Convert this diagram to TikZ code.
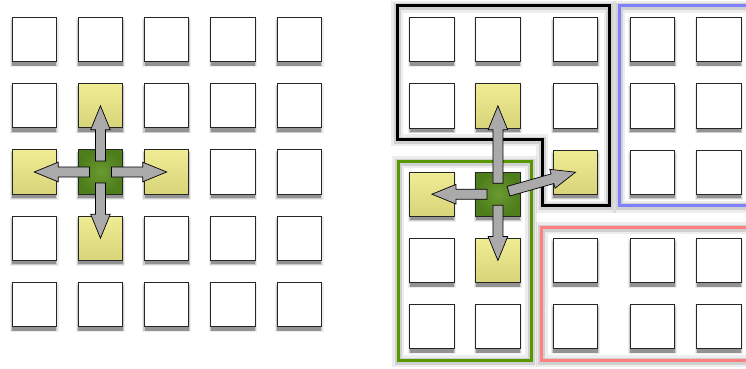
\documentclass[tikz,border=0pt]{standalone}
\usetikzlibrary{calc,shadows}
\definecolor{yTop}{HTML}{F0EC94}
\definecolor{yBot}{HTML}{D8D47A}
\definecolor{gIn}{HTML}{6A9A30}
\definecolor{gOut}{HTML}{4E7D1C}
\definecolor{arrowgray}{HTML}{AAAAAA}
\definecolor{frameGreen}{HTML}{5A9600}
\definecolor{frameBlue}{HTML}{8080FF}
\definecolor{frameRed}{HTML}{FF8080}
\tikzset{
  sqshadow/.style={
    general shadow={shadow yshift=-3pt, shadow scale=1.10, fill=black, opacity=0.07},
    general shadow={shadow yshift=-3.5pt, shadow scale=1.05, fill=black, opacity=0.14},
    general shadow={shadow yshift=-4pt, shadow scale=1.0, fill=black, opacity=0.28}},
  cellbase/.style={rectangle, minimum size=44.3pt, inner sep=0pt, draw=black!85, line width=0.9pt, sqshadow},
  wcell/.style={cellbase, fill=white},
  ycell/.style={cellbase, top color=yTop, bottom color=yBot},
  gcell/.style={cellbase, inner color=gIn, outer color=gOut},
  framehaloA/.style={line width=12pt, draw=black, opacity=0.07, line join=miter, yshift=-1pt},
  framehaloB/.style={line width=7pt, draw=black, opacity=0.12, line join=miter, yshift=-1pt},
  frameline/.style={line width=3pt, line join=miter},
  blockarrow/.style={draw=black, fill=arrowgray, line width=0.7pt, line join=miter,
    to path={let \p1=(\tikztostart.center), \p2=(\tikztotarget.center) in
      ($(\p1)!11pt!(\p2)!5pt!90:(\p2)$) -- ($(\p2)!24pt!(\p1)!5pt!-90:(\p1)$)
      -- ($(\p2)!24pt!(\p1)!9.8pt!-90:(\p1)$) -- (\p2)
      -- ($(\p2)!24pt!(\p1)!9.8pt!90:(\p1)$) -- ($(\p2)!24pt!(\p1)!5pt!90:(\p1)$)
      -- ($(\p1)!11pt!(\p2)!5pt!-90:(\p2)$) -- cycle}}
}
\begin{document}
\begin{tikzpicture}[x=1pt,y=-1pt]
\useasboundingbox (0,0) rectangle (746,368);
% ---------- left grid ----------
\foreach \i/\j in {0/0,1/0,2/0,3/0,4/0, 0/1,2/1,3/1,4/1, 3/2,4/2, 0/3,2/3,3/3,4/3, 0/4,1/4,2/4,3/4,4/4}{
  \node[wcell] (L\i\j) at ({34.2+66.25*\i},{39.5+66.25*\j}) {};
}
\foreach \i/\j in {1/1,0/2,2/2,1/3}{
  \node[ycell] (L\i\j) at ({34.2+66.25*\i},{39.5+66.25*\j}) {};
}
\node[gcell] (L12) at ({34.2+66.25},{39.5+66.25*2}) {};
\draw[blockarrow] (L12) to (L11);
\draw[blockarrow] (L12) to (L02);
\draw[blockarrow] (L12) to (L22);
\draw[blockarrow] (L12) to (L13);
% ---------- right frames ----------
\foreach \s in {framehaloA,framehaloB}{
  \draw[\s] (397.3,5.7) -- (609.7,5.7) -- (609.7,205.7) -- (542.3,205.7) -- (542.3,139.3) -- (397.3,139.3) -- cycle;
  \draw[\s] (619,5.7) rectangle (770,205.7);
  \draw[\s] (541.7,227.3) rectangle (770,360);
  \draw[\s] (398,161.3) rectangle (531.3,360);
}
\draw[frameline, draw=black] (397.3,5.7) -- (609.7,5.7) -- (609.7,205.7) -- (542.3,205.7) -- (542.3,139.3) -- (397.3,139.3) -- cycle;
\draw[frameline, draw=frameBlue] (619,5.7) rectangle (770,205.7);
\draw[frameline, draw=frameRed] (541.7,227.3) rectangle (770,360);
\draw[frameline, draw=frameGreen] (398,161.3) rectangle (531.3,360);
% ---------- right cells ----------
% black region
\node[wcell] (B00) at (431.9,39.5) {};
\node[wcell] (B10) at (497.9,39.5) {};
\node[wcell] (B20) at (575.5,39.5) {};
\node[wcell] (B01) at (431.9,105.8) {};
\node[ycell] (B11) at (497.9,105.8) {};
\node[wcell] (B21) at (575.5,105.8) {};
\node[ycell] (B22) at (575.5,172.2) {};
% blue region
\foreach \x/\n in {652.5/3,718.9/4}{
  \foreach \y/\m in {39.5/0,105.8/1,172.2/2}{
    \node[wcell] (U\n\m) at (\x,\y) {};
  }
}
% green region
\node[ycell] (G00) at (431.9,194.2) {};
\node[gcell] (G10) at (497.9,194.2) {};
\node[wcell] (G01) at (431.9,260.5) {};
\node[ycell] (G11) at (497.9,260.5) {};
\node[wcell] (G02) at (431.9,326.5) {};
\node[wcell] (G12) at (497.9,326.5) {};
% red region
\foreach \x/\n in {575.5/2,652.5/3,718.9/4}{
  \foreach \y/\m in {260.5/0,326.5/1}{
    \node[wcell] (R\n\m) at (\x,\y) {};
  }
}
\draw[blockarrow] (G10) to (B11);
\draw[blockarrow] (G10) to (G00);
\draw[blockarrow] (G10) to (G11);
\draw[blockarrow] (G10) to (B22);
\end{tikzpicture}
\end{document}
